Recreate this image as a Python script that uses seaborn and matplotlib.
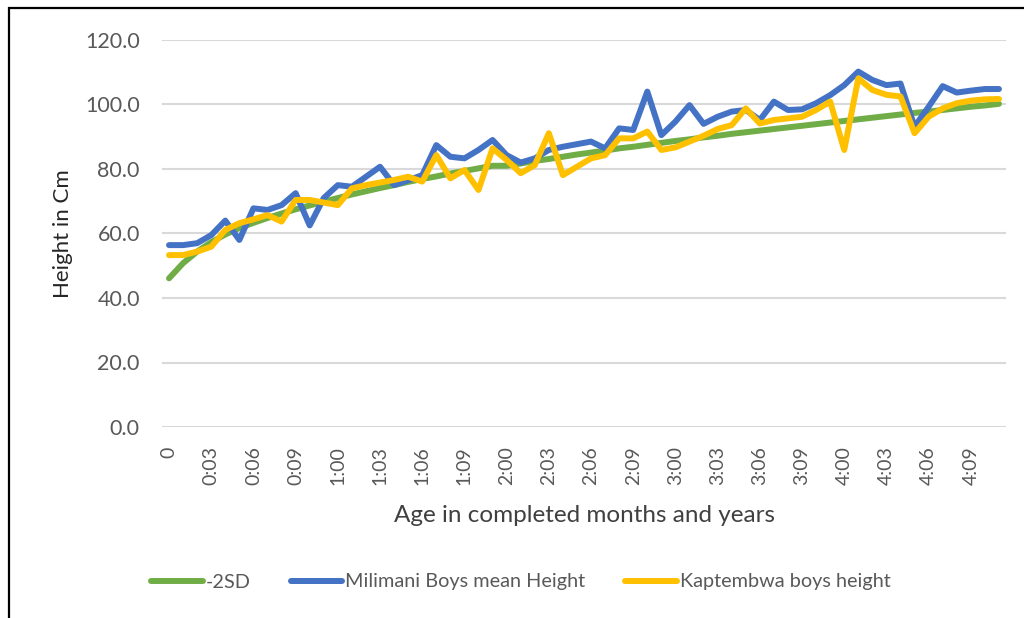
import matplotlib
matplotlib.use("Agg")
import matplotlib.pyplot as plt
from matplotlib.patches import Rectangle
from matplotlib.lines import Line2D
import seaborn as sns
import pandas as pd

ages = ["0", "0:01", "0:02", "0:03", "0:04", "0:05", "0:06", "0:07", "0:08", "0:09", "0:10", "0:11",
        "1:00", "1:01", "1:02", "1:03", "1:04", "1:05", "1:06", "1:07", "1:08", "1:09", "1:10", "1:11",
        "2:00", "2:01", "2:02", "2:03", "2:04", "2:05", "2:06", "2:07", "2:08", "2:09", "2:10", "2:11",
        "3:00", "3:01", "3:02", "3:03", "3:04", "3:05", "3:06", "3:07", "3:08", "3:09", "3:10", "3:11",
        "4:00", "4:01", "4:02", "4:03", "4:04", "4:05", "4:06", "4:07", "4:08", "4:09", "4:10", "4:11"]

minus_2sd = [46.1, 50.8, 54.4, 57.3, 59.7, 61.7, 63.3, 64.8, 66.2, 67.5, 68.7, 69.9,
             71.0, 72.1, 73.1, 74.1, 75.0, 76.0, 76.9, 77.7, 78.6, 79.4, 80.2, 81.0,
             81.0, 81.7, 82.5, 83.1, 83.8, 84.5, 85.1, 85.7, 86.4, 86.9, 87.5, 88.1,
             88.7, 89.2, 89.8, 90.3, 90.9, 91.4, 91.9, 92.4, 92.9, 93.4, 93.9, 94.4,
             94.9, 95.4, 95.9, 96.4, 96.9, 97.4, 97.8, 98.3, 98.8, 99.3, 99.7, 100.2]

milimani = [56.4, 56.4, 57.0, 59.5, 64.0, 58.0, 67.8, 67.3, 68.8, 72.5,
            62.5, 71.0, 75.0, 74.5, 77.6, 80.7, 75.0, 76.5, 78.1, 87.4,
            83.8, 83.3, 85.9, 89.0, 84.3, 82.0, 83.3, 85.9, 86.9, 87.7,
            88.5, 86.4, 92.6, 92.1, 104.0, 90.5, 94.7, 99.8, 94.0, 96.2,
            97.8, 98.3, 95.2, 100.9, 98.3, 98.5, 100.4, 102.9, 106.0, 110.2,
            107.6, 106.0, 106.5, 93.1, 99.3, 105.7, 103.7, 104.3, 104.8, 104.8]

kaptembwa = [53.3, 53.3, 54.4, 55.9, 61.1, 63.2, 64.4, 65.7, 63.7, 70.4,
             70.4, 69.6, 68.8, 74.0, 75.0, 75.8, 76.6, 77.6, 76.1, 84.3,
             77.1, 79.7, 73.5, 86.4, 82.8, 78.7, 81.2, 91.1, 78.1, 80.7,
             83.3, 84.3, 89.5, 89.5, 91.6, 85.9, 86.7, 88.5, 90.3, 92.4,
             93.6, 98.8, 94.1, 95.2, 95.7, 96.2, 98.3, 100.9, 85.9, 108.1,
             104.5, 103.0, 102.5, 91.1, 96.2, 98.8, 100.4, 101.2, 101.6, 101.7]

series_names = ["-2SD", "Milimani Boys mean Height", "Kaptembwa boys height"]
series_colors = ["#70AD47", "#4472C4", "#FFC000"]
y_ticks = [0, 20, 40, 60, 80, 100, 120]

sns.set_theme(style="white")
plt.rcParams["font.family"] = ["Lato", "DejaVu Sans"]

fig = plt.figure(figsize=(10.24, 6.18), dpi=100)
ax = fig.add_axes([162 / 1024, 1 - 427 / 618, (1006 - 162) / 1024, (427 - 40) / 618])

idx = list(range(len(ages)))
frames = []
for name, vals in zip(series_names, [minus_2sd, milimani, kaptembwa]):
    frames.append(pd.DataFrame({"idx": idx, "value": vals, "series": name}))
df = pd.concat(frames, ignore_index=True)

for name, color in zip(series_names, series_colors):
    sub = df[df["series"] == name]
    sns.lineplot(data=sub, x="idx", y="value", ax=ax, color=color, linewidth=4.3,
                 sort=False, legend=False, solid_capstyle="round", solid_joinstyle="round")

ax.set_xlim(-0.5, len(ages) - 0.5)
ax.set_ylim(0, 120)
ax.set_yticks(y_ticks)
ax.set_yticklabels([f"{v:.1f}" for v in y_ticks])
tick_pos = idx[::3]
ax.set_xticks(tick_pos)
ax.set_xticklabels(ages[::3], rotation=90, va="top", ha="center")
ax.tick_params(axis="y", length=0, pad=16, labelsize=15.5, labelcolor="#595959")
ax.tick_params(axis="x", length=0, pad=14, labelsize=14, labelcolor="#595959")
ax.grid(axis="y", color="#d9d9d9", linewidth=1.5)
ax.grid(axis="x", visible=False)
ax.set_axisbelow(True)
for s in ax.spines.values():
    s.set_visible(False)

ax.set_xlabel("Age in completed months and years", fontsize=17.5, color="#404040", labelpad=14)
ax.set_ylabel("Height in Cm", fontsize=16, color="#262626", labelpad=9)

handles = [Line2D([0], [0], color=c, linewidth=4.3, solid_capstyle="round") for c in series_colors]
fig.legend(handles, series_names, loc="center", bbox_to_anchor=(521 / 1024, 1 - 582 / 618),
           ncol=3, frameon=False, fontsize=14.3, handlelength=2.6, handletextpad=0.15,
           columnspacing=2.0, labelcolor="#595959")

fig.patches.append(Rectangle((9 / 1024, -0.1), 1.2, 1.1 - 8 / 618,
                             transform=fig.transFigure, fill=False, edgecolor="black",
                             linewidth=1.6, figure=fig))

fig.savefig("out.png", dpi=100)
